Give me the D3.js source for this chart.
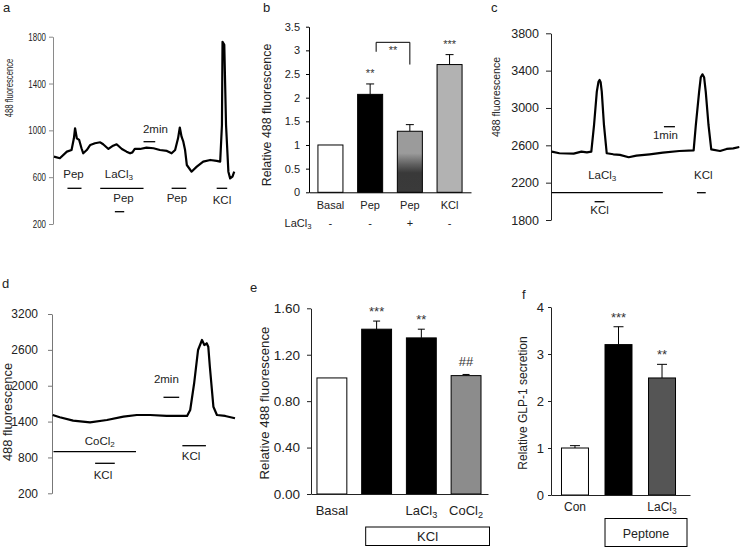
<!DOCTYPE html>
<html><head><meta charset="utf-8">
<script src="https://cdn.jsdelivr.net/npm/d3@7"></script>
<style>body{margin:0;background:#fff;} svg{display:block;}</style>
</head><body>
<svg id="chart" width="740" height="547"></svg>
<script>
// ---------------- DATA ----------------
// Panel a: trace (time in min, 488 fluorescence)
const traceATime  = [0,1.0,2.2,3.0,3.4,3.6,3.9,4.3,4.7,5.0,5.6,6.2,7.0,7.9,8.4,9.3,10.1,10.7,11.6,12.4,13.0,13.4,13.8,14.7,15.8,17.0,18.1,19.3,20.1,20.7,21.2,21.5,21.8,22.1,22.4,22.7,23.5,24.4,25.5,26.7,27.8,28.4,28.7,28.8,29.1,29.4,29.8,30.1,30.5,30.8];
const traceAValue = [775,762,818,832,932,1018,932,918,847,804,832,875,890,898,881,841,869,881,841,818,804,812,841,841,852,847,832,824,804,832,932,1024,946,903,832,704,647,690,733,747,739,733,1046,1757,1730,1046,647,590,605,647];
const traceATicks = [200,600,1000,1400,1800];
const traceAMarks = [
  {label:"Pep",   start:2.3,  end:4.7},
  {label:"LaCl3", start:7.9,  end:15.3},
  {label:"Pep",   start:10.4, end:12.0},
  {label:"Pep",   start:20.1, end:22.6},
  {label:"KCl",   start:27.8, end:29.6}
];
const traceAScale = {label:"2min", start:15.3, end:17.3};

// Panel b
const barBIds    = ["basal","pep","pepLa","kcl"];
const barBLabels = ["Basal","Pep","Pep","KCl"];
const barBValues = [1.0, 2.07, 1.29, 2.70];
const barBErrors = [0, 0.22, 0.14, 0.21];
const barBLaCl3  = ["-","-","+","-"];
const barBSig    = ["","**","","***"];
const barBTicks  = [0,0.5,1,1.5,2,2.5,3,3.5];

// Panel c
const traceCTime  = [0,0.7,2.0,2.7,3.2,3.6,3.85,4.1,4.25,4.35,4.45,4.55,4.75,5.0,5.6,6.2,7.0,7.7,8.9,10.1,11.6,12.9,13.1,13.4,13.55,13.7,13.85,14.0,14.25,14.5,15.3,15.9,16.5,17.05];
const traceCValue = [2532,2515,2511,2532,2525,2532,2818,3175,3280,3300,3275,3175,2818,2515,2504,2497,2472,2490,2504,2521,2539,2546,2818,3175,3330,3361,3330,3175,2818,2557,2539,2561,2568,2582];
const traceCTicks = [1800,2200,2600,3000,3400,3800];
const traceCMarks = [
  {label:"LaCl3", start:0,    end:10.1},
  {label:"KCl",   start:3.9,  end:4.8},
  {label:"KCl",   start:13.2, end:14.0}
];
const traceCScale = {label:"1min", start:10.2, end:11.2};

// Panel d
const traceDTime  = [0,0.9,2.6,4.75,6.9,9.0,10.7,12.4,14.5,17.1,17.5,18.0,18.5,19.0,19.3,19.6,19.8,20.0,20.45,20.9,21.95,23.2];
const traceDValue = [1510,1472,1415,1388,1427,1482,1510,1510,1494,1494,1594,2041,2598,2765,2681,2710,2653,2318,1649,1510,1494,1455];
const traceDTicks = [200,800,1400,2000,2600,3200];
const traceDMarks = [
  {label:"CoCl2", start:0.1,  end:10.6},
  {label:"KCl",   start:5.4,  end:7.9},
  {label:"KCl",   start:16.5, end:19.5}
];
const traceDScale = {label:"2min", start:14.1, end:16.1};

// Panel e
const barEIds    = ["basal","kcl","kclLa","kclCo"];
const barELabels = ["Basal","","LaCl3","CoCl2"];
const barEValues = [1.0, 1.42, 1.345, 1.02];
const barEErrors = [0, 0.07, 0.075, 0.01];
const barESig    = ["","***","**","##"];
const barETicks  = [0,0.4,0.8,1.2,1.6];
const barEGroup  = "KCl";

// Panel f
const barFIds    = ["con","pep","pepLa"];
const barFLabels = ["Con","","LaCl3"];
const barFValues = [1.0, 3.2, 2.49];
const barFErrors = [0.05, 0.38, 0.29];
const barFSig    = ["","***","**"];
const barFTicks  = [0,1,2,3,4];
const barFGroup  = "Peptone";

// ---------------- DRAWING ----------------
const SANS = "'Liberation Sans', Arial, Helvetica, sans-serif";
const svg = d3.select("#chart");
svg.append("rect").attr("width",740).attr("height",547).attr("fill","#fff");

const defs = svg.append("defs");
const gB = defs.append("linearGradient").attr("id","gradB").attr("x1",0).attr("y1",0).attr("x2",0).attr("y2",1);
[[0,"#9b9b9b"],[0.36,"#9b9b9b"],[0.55,"#5e5e5e"],[0.68,"#393939"],[1,"#3a3a3a"]]
  .forEach(([o,c]) => gB.append("stop").attr("offset",o).attr("stop-color",c));

function rich(t, s) {
  const m = /^(.*Cl)(\d)$/.exec(s);
  if (m) {
    t.append("tspan").text(m[1]);
    t.append("tspan").attr("dy","0.3em").style("font-size","70%").text(m[2]);
  } else t.text(s);
  return t;
}
function label(x, y, s, fs, anchor, fill) {
  const t = svg.append("text").attr("x",x).attr("y",y).attr("text-anchor",anchor||"middle")
    .attr("font-family",SANS).attr("font-size",fs).attr("fill",fill||"#222");
  return rich(t, s);
}
function squeeze(sel, k) {
  sel.each(function() {
    const w = this.getComputedTextLength();
    d3.select(this).attr("textLength", w * k).attr("lengthAdjust", "spacingAndGlyphs");
  });
}
function vlabel(x, y, s, fs, k) {
  const t = svg.append("text").attr("transform",`translate(${x},${y}) rotate(-90)`).attr("text-anchor","middle")
    .attr("font-family",SANS).attr("font-size",fs).attr("fill","#222").text(s);
  if (k) squeeze(t, k);
}
function yAxis(x, scale, ticks, fmt, o) {
  const g = svg.append("g").attr("transform",`translate(${x},0)`)
    .call(d3.axisLeft(scale).tickValues(ticks).tickFormat(fmt).tickSize(o.tick).tickSizeOuter(0).tickPadding(o.pad));
  g.selectAll("path,line").attr("stroke",o.color).attr("stroke-width",1);
  g.selectAll("text").attr("font-family",SANS).attr("font-size",o.fs).attr("fill","#222");
  if (o.squeeze) squeeze(g.selectAll("text"), o.squeeze);
  return g;
}
function hbar(x1, x2, y) {
  svg.append("line").attr("x1",x1).attr("x2",x2).attr("y1",y).attr("y2",y)
    .attr("stroke","#000").attr("stroke-width",1.3);
}

function tracePanel(p) {
  const x = d3.scaleLinear().domain(p.xDomain).range(p.xRange);
  const y = d3.scaleLinear().domain(p.yDomain).range(p.yRange);
  yAxis(p.axisX, y, p.ticks, d3.format("d"), p.axis);
  svg.append("path").datum(d3.zip(p.time, p.value))
    .attr("d", d3.line().x(d => x(d[0])).y(d => y(d[1])))
    .attr("fill","none").attr("stroke","#000").attr("stroke-width",2.2)
    .attr("stroke-linejoin","round");
  p.marks.forEach((m, i) => {
    const L = p.layout[i];
    hbar(x(m.start), x(m.end), L.ly);
    label((x(m.start)+x(m.end))/2 + L.dx, L.ty, m.label, p.fs);
  });
  const s = p.scaleBar, L = p.scaleLayout;
  hbar(x(s.start), x(s.end), L.ly);
  label((x(s.start)+x(s.end))/2 + L.dx, L.ty, s.label, p.fs);
}

function barPanel(p) {
  const x = d3.scaleBand().domain(p.ids).range(p.xRange)
    .paddingInner(p.pi).paddingOuter(p.po).align(p.align);
  const y = d3.scaleLinear().domain(p.yDomain).range(p.yRange);
  const bw = x.bandwidth();
  p.ids.forEach((id, i) => {
    const v = p.values[i], e = p.errors[i], cx = x(id) + bw/2;
    if (e > 0) {
      svg.append("line").attr("x1",cx).attr("x2",cx).attr("y1",y(v)).attr("y2",y(v+e))
        .attr("stroke","#000").attr("stroke-width",1);
      svg.append("line").attr("x1",cx-p.cap/2).attr("x2",cx+p.cap/2).attr("y1",y(v+e)).attr("y2",y(v+e))
        .attr("stroke","#000").attr("stroke-width",1);
    }
    svg.append("rect").attr("x",x(id)).attr("y",y(v)).attr("width",bw).attr("height",y(0)-y(v))
      .attr("fill",p.fills[i]).attr("stroke","#000").attr("stroke-width",1);
    if (p.sig[i]) {
      const off = p.sig[i].includes("#") ? 8 : p.sigOff;
      svg.append("text").attr("x",cx).attr("y",y(v+e)-off).attr("text-anchor","middle")
        .attr("font-family",SANS).attr("font-size",p.sigFs).attr("fill","#333").text(p.sig[i]);
    }
    if (p.labels[i]) label(cx, p.labelY, p.labels[i], p.labelFs);
  });
  const gx = svg.append("g").attr("transform",`translate(0,${p.yRange[0]})`)
    .call(d3.axisBottom(x).tickSize(0).tickSizeOuter(0).tickFormat(""));
  gx.selectAll("path").attr("stroke",p.axis.color).attr("stroke-width",1);
  yAxis(p.axisX, y, p.ticks, p.fmt, p.axis);
  return {x, y, bw};
}

// ---- Panel a ----
tracePanel({
  time: traceATime, value: traceAValue, ticks: traceATicks,
  xDomain: [0, 31], xRange: [54, 235.4], yDomain: [200, 1800], yRange: [224, 36.7],
  axisX: 53, axis: {tick:4, pad:3, color:"#8a8a8a", fs:11, squeeze:0.72},
  marks: traceAMarks, fs: 11.5,
  layout: [{ly:188.3, ty:178, dx:-1},{ly:188.3, ty:178, dx:-3},{ly:211.7, ty:201.5, dx:4},
           {ly:188.3, ty:201.5, dx:-2},{ly:188.3, ty:204, dx:0}],
  scaleBar: traceAScale, scaleLayout: {ly:141.7, ty:133, dx:6}
});
vlabel(12.5, 88, "488 fluorescence", 11, 0.7);
label(3, 12, "a", 13, "start");

// ---- Panel b ----
const pb = barPanel({
  ids: barBIds, labels: barBLabels, values: barBValues, errors: barBErrors, sig: barBSig,
  fills: ["#fff","#000","url(#gradB)","#b2b2b2"], ticks: barBTicks, fmt: d => String(d),
  xRange: [309, 471], pi: 0.37, po: 0.225, align: 0.5,
  yDomain: [0, 3.5], yRange: [192.3, 26.7], axisX: 309,
  axis: {tick:3, pad:6, color:"#000", fs:11},
  cap: 8, sigOff: 7, sigFs: 11, labelY: 209, labelFs: 11
});
label(298, 227, "LaCl3", 11);
barBIds.forEach((id, i) => label(pb.x(id) + pb.bw/2, 227, barBLaCl3[i], 11));
{
  const xl = pb.x("pep") + pb.bw/2 + 6, xr = pb.x("pepLa") + pb.bw/2;
  svg.append("path")
    .attr("d", `M${xl},${pb.y(2.97)}V${pb.y(3.17)}H${xr}V${pb.y(2.70)}`)
    .attr("fill","none").attr("stroke","#000").attr("stroke-width",1);
  svg.append("text").attr("x",(xl+xr)/2).attr("y",pb.y(2.92)).attr("text-anchor","middle")
    .attr("font-family",SANS).attr("font-size",11).attr("fill","#333").text("**");
}
vlabel(270.7, 115, "Relative 488 fluorescence", 12.4);
label(263, 12, "b", 13, "start");

// ---- Panel c ----
tracePanel({
  time: traceCTime, value: traceCValue, ticks: traceCTicks,
  xDomain: [0, 17.05], xRange: [551.7, 739.3], yDomain: [1800, 3800], yRange: [220, 33.3],
  axisX: 551, axis: {tick:5, pad:7, color:"#222", fs:12.5},
  marks: traceCMarks, fs: 11.5,
  layout: [{ly:192.7, ty:179, dx:-5},{ly:201.7, ty:214, dx:0},{ly:192.7, ty:179, dx:2}],
  scaleBar: traceCScale, scaleLayout: {ly:126.7, ty:138.5, dx:-4}
});
vlabel(500, 97, "488 fluorescence", 10.5);
label(491, 12, "c", 13, "start");

// ---- Panel d ----
tracePanel({
  time: traceDTime, value: traceDValue, ticks: traceDTicks,
  xDomain: [0, 23.2], xRange: [52.7, 235], yDomain: [200, 3200], yRange: [493.3, 314],
  axisX: 52, axis: {tick:4, pad:10, color:"#777", fs:12},
  marks: traceDMarks, fs: 11.5,
  layout: [{ly:451.7, ty:445, dx:5},{ly:463.3, ty:479, dx:-2},{ly:445.7, ty:460, dx:-3}],
  scaleBar: traceDScale, scaleLayout: {ly:397.3, ty:383, dx:-5}
});
vlabel(12, 412, "488 fluorescence", 12.9);
label(2, 288, "d", 13, "start");

// ---- Panel e ----
const pe = barPanel({
  ids: barEIds, labels: barELabels, values: barEValues, errors: barEErrors, sig: barESig,
  fills: ["#fff","#000","#000","#8c8c8c"], ticks: barETicks, fmt: d3.format(".2f"),
  xRange: [311, 488], pi: 0.332, po: 0.145, align: 0.46,
  yDomain: [0, 1.6], yRange: [494, 308.3], axisX: 311,
  axis: {tick:4, pad:7, color:"#222", fs:13.5},
  cap: 7, sigOff: 5, sigFs: 13, labelY: 515, labelFs: 13
});
{
  const x0 = pe.x(barEIds[1]) + 4, x1 = 489.5;
  svg.append("rect").attr("x",x0).attr("y",527).attr("width",x1-x0).attr("height",18.5)
    .attr("fill","#fff").attr("stroke","#000").attr("stroke-width",1);
  label((x0+x1)/2, 541, barEGroup, 13);
}
vlabel(269, 403, "Relative 488 fluorescence", 13.3);
label(250, 292, "e", 13, "start");

// ---- Panel f ----
const pf = barPanel({
  ids: barFIds, labels: barFLabels, values: barFValues, errors: barFErrors, sig: barFSig,
  fills: ["#fff","#000","#555"], ticks: barFTicks, fmt: d3.format("d"),
  xRange: [551, 690], pi: 0.38, po: 0.287, align: 0.42,
  yDomain: [0, 4], yRange: [495, 307], axisX: 551,
  axis: {tick:3, pad:4, color:"#222", fs:13},
  cap: 10, sigOff: 5, sigFs: 13, labelY: 511, labelFs: 12
});
{
  const x0 = pf.x(barFIds[1]), x1 = 687;
  svg.append("rect").attr("x",x0).attr("y",518.5).attr("width",x1-x0).attr("height",28)
    .attr("fill","#fff").attr("stroke","#000").attr("stroke-width",1);
  label((x0+x1)/2, 538, barFGroup, 12.5);
}
vlabel(526.6, 403, "Relative GLP-1 secretion", 12);
label(522, 299, "f", 13, "start");
</script>
</body></html>
